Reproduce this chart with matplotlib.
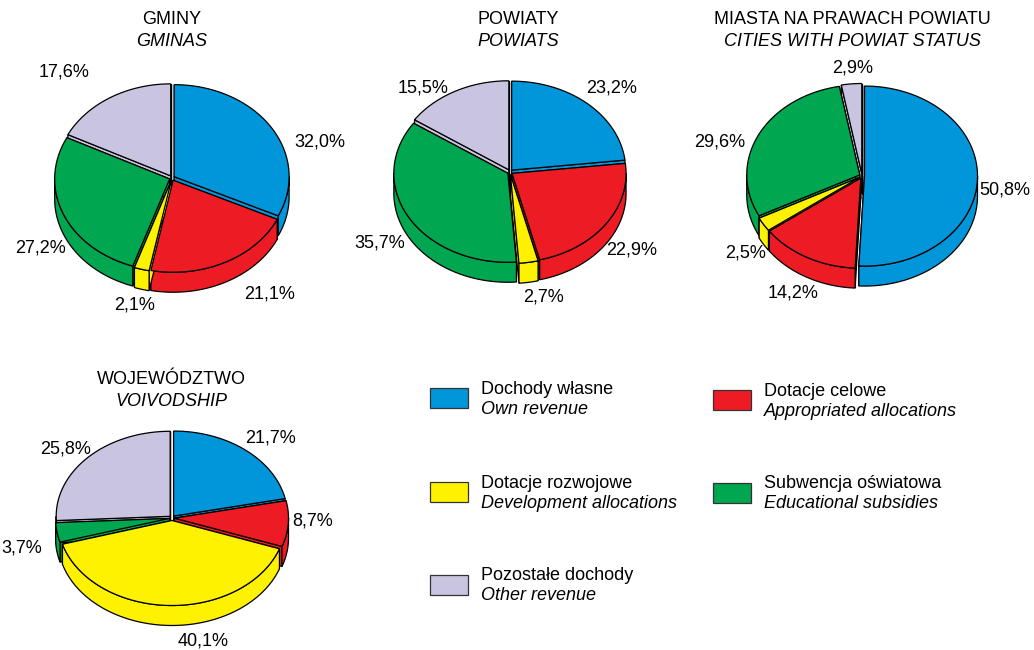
import numpy as np
import matplotlib.pyplot as plt
from matplotlib.patches import Polygon, Rectangle

plt.rcParams['font.family'] = ['Liberation Sans', 'DejaVu Sans']

# categories (clockwise from 12 o'clock)
cat_pl = ['Dochody własne', 'Dotacje celowe', 'Dotacje rozwojowe',
          'Subwencja oświatowa', 'Pozostałe dochody']
cat_en = ['Own revenue', 'Appropriated allocations', 'Development allocations',
          'Educational subsidies', 'Other revenue']
colors = ['#0096d9', '#ed1c24', '#fff200', '#00a650', '#c9c5e1']

# shares in %
gminy = [32.0, 21.1, 2.1, 27.2, 17.6]
powiaty = [23.2, 22.9, 2.7, 35.7, 15.5]
miasta = [50.8, 14.2, 2.5, 29.6, 2.9]
wojew = [21.7, 8.7, 40.1, 3.7, 25.8]

titles_pl = ['GMINY', 'POWIATY', 'MIASTA NA PRAWACH POWIATU', 'WOJEWÓDZTWO']
titles_en = ['GMINAS', 'POWIATS', 'CITIES WITH POWIAT STATUS', 'VOIVODSHIP']

FS = 13


def pt(cx, cy, rx, ry, th):
    t = np.radians(th)
    return cx + rx * np.sin(t), cy - ry * np.cos(t)


def pie3d(ax, vals, cx, cy, rx, ry, depth, expl=2.5):
    total = float(sum(vals))
    edges = np.concatenate([[0], np.cumsum(vals)]) / total * 360.0
    sl = []
    for i in range(len(vals)):
        a0, a1 = edges[i], edges[i + 1]
        m = np.radians((a0 + a1) / 2)
        sl.append((i, a0, a1, cx + expl * np.sin(m), cy - expl * np.cos(m)))
    # walls, back to front
    for i, a0, a1, x0, y0 in sorted(sl, key=lambda s: -np.cos(np.radians((s[1] + s[2]) / 2))):
        for a in (a0, a1):
            px, py = pt(x0, y0, rx, ry, a)
            ax.add_patch(Polygon([(x0, y0), (px, py), (px, py + depth), (x0, y0 + depth)],
                                 closed=True, fc=colors[i], ec='black', lw=0.9))
        lo, hi = max(a0, 90), min(a1, 270)
        if hi > lo:
            th = np.linspace(lo, hi, 80)
            xs, ys = pt(x0, y0, rx, ry, th)
            poly = list(zip(xs, ys)) + list(zip(xs[::-1], ys[::-1] + depth))
            ax.add_patch(Polygon(poly, closed=True, fc=colors[i], ec='black', lw=0.9))
    # tops
    for i, a0, a1, x0, y0 in sl:
        th = np.linspace(a0, a1, max(int(a1 - a0) * 2, 4))
        xs, ys = pt(x0, y0, rx, ry, th)
        poly = [(x0, y0)] + list(zip(xs, ys))
        ax.add_patch(Polygon(poly, closed=True, fc=colors[i], ec='black', lw=0.9))


def fmt(v):
    return ('%.1f%%' % v).replace('.', ',')


fig = plt.figure(figsize=(10.34, 6.5), dpi=100)
ax = fig.add_axes([0, 0, 1, 1])
ax.set_xlim(0, 1034)
ax.set_ylim(650, 0)
ax.axis('off')

pies = [
    (gminy, 172, 178, 115, 92, 20, (172, 20),
     [(320, 142), (270, 294), (135, 305), (40, 248), (64, 72)]),
    (powiaty, 510, 172, 114, 89, 20, (518, 20),
     [(612, 88), (632, 250), (543, 297), (380, 243), (423, 88)]),
    (miasta, 862, 176, 113, 90, 20, (852, 20),
     [(1005, 190), (793, 293), (746, 253), (720, 142), (853, 68)]),
    (wojew, 172, 518, 114, 85, 20, (171, 380),
     [(270, 438), (313, 521), (203, 641), (22, 548), (66, 449)]),
]

for k, (vals, cx, cy, rx, ry, d, tpos, lpos) in enumerate(pies):
    pie3d(ax, vals, cx, cy, rx, ry, d)
    ax.text(tpos[0], tpos[1], titles_pl[k], ha='center', va='center', fontsize=FS)
    ax.text(tpos[0], tpos[1] + 22, titles_en[k], ha='center', va='center',
            fontsize=FS, style='italic')
    for v, (lx, ly) in zip(vals, lpos):
        ax.text(lx, ly, fmt(v), ha='center', va='center', fontsize=FS)

# legend
leg_pos = [(430, 388), (713, 390), (430, 482), (713, 483), (430, 575)]
for i, (lx, ly) in enumerate(leg_pos):
    ax.add_patch(Rectangle((lx, ly), 38, 20, fc=colors[i], ec='#333333', lw=0.9))
    ax.text(lx + 51, ly + 1, cat_pl[i], ha='left', va='center', fontsize=FS)
    ax.text(lx + 51, ly + 21, cat_en[i], ha='left', va='center', fontsize=FS, style='italic')

fig.savefig('out.png', dpi=100)
